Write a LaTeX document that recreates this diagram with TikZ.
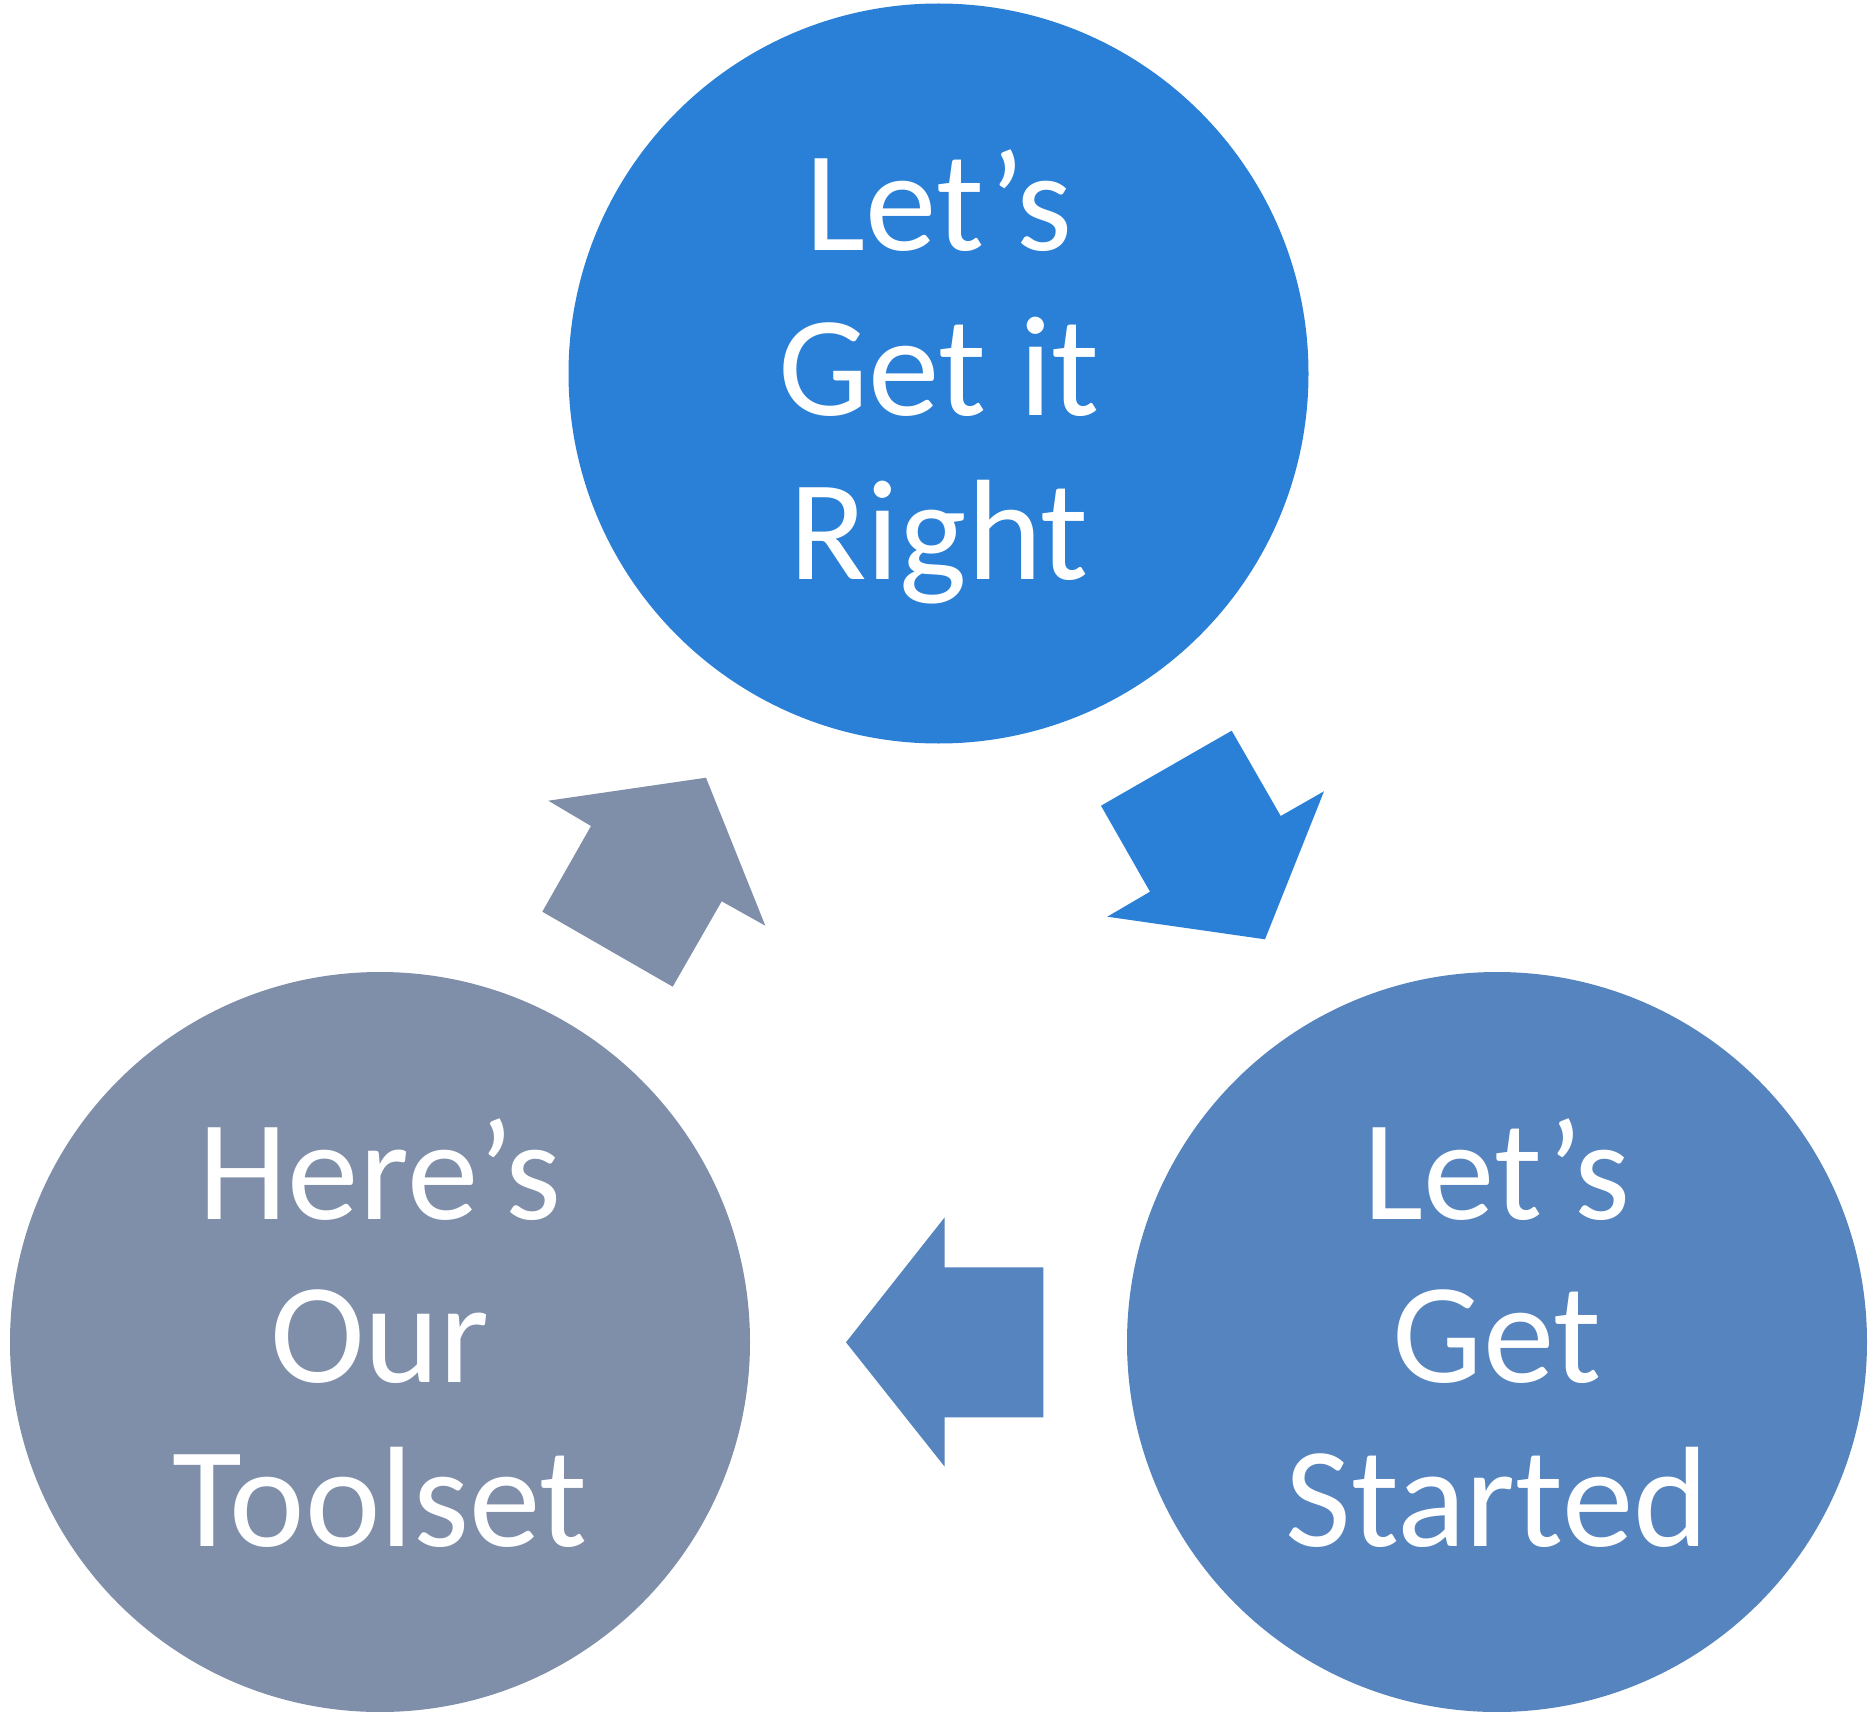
\documentclass[tikz,border=0pt]{standalone}
\usepackage{fontspec}
\setmainfont{Carlito}
\definecolor{cTop}{RGB}{42,128,214}
\definecolor{cRight}{RGB}{86,132,191}
\definecolor{cLeft}{RGB}{127,142,169}
\begin{document}
\begin{tikzpicture}[x=1pt,y=-1pt,
  lbl/.style={text=white,anchor=base,inner sep=0pt,font=\fontsize{143}{164}\selectfont},
  disc/.style={circle,minimum size=740pt,inner sep=0pt}]
\useasboundingbox (0,0) rectangle (1872,1712);
\node[disc,fill=cTop] (top) at (938.5,373.5) {};
\node[disc,fill=cLeft] (left) at (380,1342) {};
\node[disc,fill=cRight] (right) at (1497,1342) {};
% arrows
\fill[cTop] (1101,805.7) -- (1231.7,730.7) -- (1280.7,816) -- (1324,791.3) -- (1265,939.3) -- (1107.3,916.7) -- (1150,891.7) -- cycle;
\fill[cRight] (1043.3,1267.3) -- (944.7,1267.3) -- (944.7,1217.3) -- (846,1342.3) -- (944.7,1466.7) -- (944.7,1417.3) -- (1043.3,1417.3) -- cycle;
\fill[cLeft] (542.3,911.7) -- (591,826) -- (548.3,800.7) -- (706,777.7) -- (765.3,925.7) -- (721.7,901.3) -- (672.7,986.7) -- cycle;
% texts
\node[lbl] (t1) at (939,250.7) {Let’s};
\node[lbl] (t2) at (939,415.5) {Get it};
\node[lbl] (t3) at (939,579) {Right};
\node[lbl] (l1) at (380,1219) {Here’s};
\node[lbl] (l2) at (380,1382.5) {Our};
\node[lbl] (l3) at (380,1546) {Toolset};
\node[lbl] (r1) at (1497,1219) {Let’s};
\node[lbl] (r2) at (1497,1382.5) {Get};
\node[lbl] (r3) at (1497,1546) {Started};
\end{tikzpicture}
\end{document}
